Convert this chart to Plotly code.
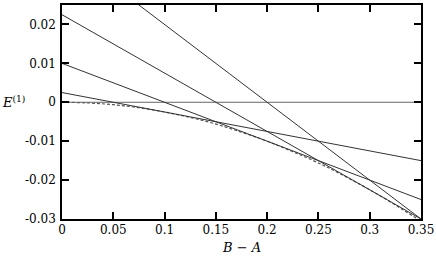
import plotly.graph_objects as go

# Dashed curve: points
curve_x = [0, 0.025, 0.05, 0.075, 0.1, 0.125, 0.15, 0.175, 0.2, 0.225, 0.25, 0.275, 0.3, 0.325, 0.35]
curve_y = [0, -0.00016, -0.000625, -0.0014, -0.0025, -0.0039, -0.0056, -0.0077, -0.01, -0.0127,
           -0.0156, -0.0189, -0.0225, -0.0264, -0.0306]

# Straight lines: value at x=0 and value at x=0.35
line_x = [0, 0.35]
line_starts = [0.0, 0.0025, 0.01, 0.0225, 0.04]
line_ends = [0.0, -0.015, -0.025, -0.03, -0.03]
line_colors = ["#666666", "#333333", "#333333", "#333333", "#333333"]

x_ticks = [0, 0.05, 0.1, 0.15, 0.2, 0.25, 0.3, 0.35]
x_ticktext = ["0", "0.05", "0.1", "0.15", "0.2", "0.25", "0.3", "0.35"]
y_ticks = [-0.03, -0.02, -0.01, 0, 0.01, 0.02]
y_ticktext = ["-0.03", "-0.02", "-0.01", "0", "0.01", "0.02"]

FONT = "DejaVu Serif"

fig = go.Figure()
fig.add_trace(go.Scatter(x=curve_x, y=curve_y, mode="lines", line_shape="spline",
                         line=dict(color="#555555", width=1.2, dash="3px,2px"),
                         showlegend=False, hoverinfo="skip"))
for s, e, c in zip(line_starts, line_ends, line_colors):
    fig.add_trace(go.Scatter(x=line_x, y=[s, e], mode="lines",
                             line=dict(color=c, width=1), showlegend=False, hoverinfo="skip"))

axis_common = dict(showline=True, linecolor="black", linewidth=1.5, mirror="allticks",
                   ticks="inside", ticklen=7, tickwidth=1.5, tickcolor="black",
                   showgrid=False, zeroline=False, automargin=False,
                   tickfont=dict(family=FONT, size=12, color="black"))

fig.update_xaxes(range=[0, 0.35], tickvals=x_ticks, ticktext=x_ticktext,
                 ticklabelstandoff=-1, **axis_common)
fig.update_yaxes(range=[-0.03, 0.025], tickvals=y_ticks, ticktext=y_ticktext,
                 ticklabelstandoff=2, **axis_common)

fig.add_annotation(text="<i>B</i> − <i>A</i>", xref="paper", yref="paper", x=0.5, y=0,
                   yshift=-28, showarrow=False, xanchor="center", yanchor="middle",
                   font=dict(family=FONT, size=13, color="black"))
fig.add_annotation(text="<i>E</i><sup>(1)</sup>", xref="paper", yref="y", x=0, y=0,
                   xshift=-49, showarrow=False, xanchor="center", yanchor="middle",
                   font=dict(family=FONT, size=13, color="black"))

fig.update_layout(width=436, height=256, margin=dict(l=62, r=15, t=5, b=37, autoexpand=False),
                  plot_bgcolor="white", paper_bgcolor="white")

fig.write_html("out.html", config={"displayModeBar": False},
               post_script="document.body.style.margin='0';document.body.style.overflow='hidden';")
